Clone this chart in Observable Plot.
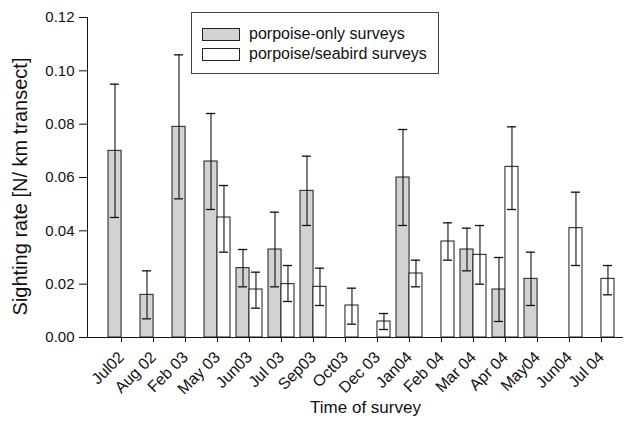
<!DOCTYPE html>
<html>
<head>
<meta charset="utf-8">
<script src="https://cdn.jsdelivr.net/npm/d3@7"></script>
<script src="https://cdn.jsdelivr.net/npm/@observablehq/plot@0.6"></script>
<style>
  html, body { margin: 0; padding: 0; background: #fff; }
  #wrap { position: relative; width: 625px; height: 421px; font-family: "Liberation Sans", Arial, Helvetica, sans-serif; }
  #legend { position: absolute; left: 191px; top: 12px; width: 246px; height: 60px; border: 1px solid #444; background: #fff; }
  .item { position: absolute; left: 10px; display: flex; align-items: center; font-size: 16px; color: #111; }
  .sw { width: 36px; height: 11px; border: 1px solid #222; margin-right: 9px; }
</style>
</head>
<body>
<div id="wrap"></div>
<script>
const categories = ["Jul02","Aug 02","Feb 03","May 03","Jun03","Jul 03","Sep03","Oct03","Dec 03","Jan04","Feb 04","Mar 04","Apr 04","May04","Jun04","Jul 04"];
const seriesNames = ["porpoise-only surveys", "porpoise/seabird surveys"];
// porpoise-only surveys
const onlyMean  = [0.070, 0.016, 0.079, 0.066, 0.026, 0.033, 0.055, null, null, 0.060, null, 0.033, 0.018, 0.022, null, null];
const onlyLower = [0.045, 0.007, 0.052, 0.048, 0.019, 0.019, 0.042, null, null, 0.042, null, 0.025, 0.006, 0.012, null, null];
const onlyUpper = [0.095, 0.025, 0.106, 0.084, 0.033, 0.047, 0.068, null, null, 0.078, null, 0.041, 0.030, 0.032, null, null];
// porpoise/seabird surveys
const mixMean  = [null, null, null, 0.045, 0.018, 0.020, 0.019, 0.012, 0.006, 0.024, 0.036, 0.031, 0.064, null, 0.041, 0.022];
const mixLower = [null, null, null, 0.032, 0.011, 0.0135, 0.012, 0.005, 0.003, 0.019, 0.029, 0.020, 0.048, null, 0.027, 0.016];
const mixUpper = [null, null, null, 0.057, 0.0245, 0.027, 0.026, 0.0185, 0.009, 0.029, 0.043, 0.042, 0.079, null, 0.0545, 0.027];
const yTicks = [0, 0.02, 0.04, 0.06, 0.08, 0.10, 0.12];
const fills = ["#d3d3d3", "#ffffff"];

function rows(mean, lo, hi) {
  return categories.map((c, i) => ({cat: c, mean: mean[i], lo: lo[i], hi: hi[i]})).filter(d => d.mean != null);
}
const only = rows(onlyMean, onlyLower, onlyUpper);
const mix = rows(mixMean, mixLower, mixUpper);

const half = 12.95;   // half of band width
const capIn = 1.95;   // cap inset from band edge
const capOut = half + 2;

const chart = Plot.plot({
  width: 625,
  height: 421,
  marginLeft: 87,
  marginRight: 2,
  marginTop: 17,
  marginBottom: 84,
  style: {fontFamily: "'Liberation Sans', Arial, Helvetica, sans-serif", fontSize: "15px", color: "#111", background: "transparent"},
  x: {domain: categories, paddingInner: 0.2, paddingOuter: 0.38, align: 0.68},
  y: {domain: [0, 0.12], ticks: yTicks, tickFormat: d3.format(".2f"), tickSize: 8, tickPadding: 5, line: true, label: null},
  marks: [
    Plot.axisX({tickRotate: -45, tickSize: 5, tickPadding: 12, fontSize: 16, label: null, stroke: "#111", fill: "#111"}),
    Plot.barY(only, {x: "cat", y1: 0, y2: "mean", insetRight: half, fill: fills[0], stroke: "#1a1a1a", strokeWidth: 1}),
    Plot.barY(mix, {x: "cat", y1: 0, y2: "mean", insetLeft: half, fill: fills[1], stroke: "#1a1a1a", strokeWidth: 1}),
    Plot.ruleX(only, {x: "cat", y1: "lo", y2: "hi", dx: -half / 2, stroke: "#111", strokeWidth: 1.1}),
    Plot.ruleX(mix, {x: "cat", y1: "lo", y2: "hi", dx: half / 2, stroke: "#111", strokeWidth: 1.1}),
    Plot.tickY(only, {x: "cat", y: "lo", insetLeft: capIn, insetRight: capOut, stroke: "#111", strokeWidth: 1.3}),
    Plot.tickY(only, {x: "cat", y: "hi", insetLeft: capIn, insetRight: capOut, stroke: "#111", strokeWidth: 1.3}),
    Plot.tickY(mix, {x: "cat", y: "lo", insetLeft: capOut, insetRight: capIn, stroke: "#111", strokeWidth: 1.3}),
    Plot.tickY(mix, {x: "cat", y: "hi", insetLeft: capOut, insetRight: capIn, stroke: "#111", strokeWidth: 1.3}),
    Plot.ruleY([0], {stroke: "#111", strokeWidth: 1.2}),
    Plot.text(["Sighting rate [N/ km transect]"], {frameAnchor: "left", textAnchor: "middle", rotate: -90, dx: -67, dy: 9, fontSize: 20, fill: "#111"}),
    Plot.text(["Time of survey"], {frameAnchor: "bottom", textAnchor: "middle", dx: 10, dy: 75, fontSize: 17, fill: "#111"})
  ]
});

const wrap = document.getElementById("wrap");
wrap.appendChild(chart);

const legend = document.createElement("div");
legend.id = "legend";
seriesNames.forEach((name, i) => {
  const item = document.createElement("div");
  item.className = "item";
  item.style.top = (i === 0 ? 12 : 32) + "px";
  const sw = document.createElement("div");
  sw.className = "sw";
  sw.style.background = fills[i];
  const t = document.createElement("span");
  t.textContent = name;
  item.appendChild(sw);
  item.appendChild(t);
  legend.appendChild(item);
});
wrap.appendChild(legend);
</script>
</body>
</html>
